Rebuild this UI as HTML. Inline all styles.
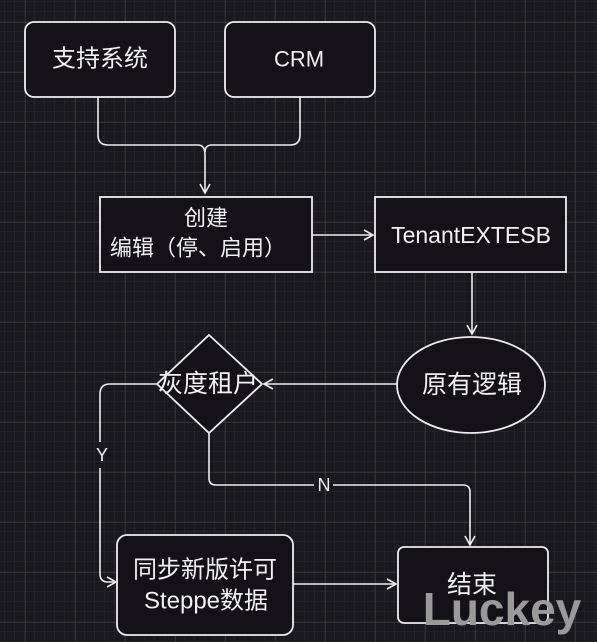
<!DOCTYPE html>
<html><head><meta charset="utf-8"><style>
html,body{margin:0;padding:0;background:#1a181f;}
svg{display:block}
text{font-family:"Liberation Sans","Noto Sans CJK SC",sans-serif;fill:#f2f2f2;}
</style></head><body>
<svg width="597" height="642" viewBox="0 0 597 642" xmlns="http://www.w3.org/2000/svg">
<defs>
<pattern id="minor" x="5" y="2" width="10" height="10" patternUnits="userSpaceOnUse">
<path d="M10 0V10M0 10H10" stroke="#2a2830" stroke-width="1" fill="none"/>
</pattern>
<pattern id="major" x="25" y="22" width="50" height="50" patternUnits="userSpaceOnUse">
<path d="M0 0V50M0 0H50" stroke="#4a473f" stroke-width="1" fill="none"/>
</pattern>
<marker id="ar" markerWidth="12" markerHeight="12" refX="10" refY="6" orient="auto" markerUnits="userSpaceOnUse">
<path d="M1 1L10 6L1 11" stroke="#eee" stroke-width="1.6" fill="none"/>
</marker>
</defs>
<rect width="597" height="642" fill="#1a181f"/>
<rect width="597" height="642" fill="url(#minor)"/>
<rect width="597" height="642" fill="url(#major)"/>
<g stroke="#eee" stroke-width="1.8" fill="#141218">
<rect x="25" y="22" width="150" height="75" rx="9"/>
<rect x="225" y="22" width="150" height="75" rx="9"/>
<rect x="100" y="197" width="212" height="75"/>
<rect x="375" y="197" width="191" height="75"/>
<ellipse cx="471" cy="385" rx="74" ry="48"/>
<path d="M209 335L262 384L209 433L157 384Z"/>
<rect x="117" y="535" width="176" height="100" rx="10"/>
<rect x="398" y="547" width="150" height="76" rx="6"/>
</g>
<g stroke="#eee" stroke-width="1.6" fill="none">
<path d="M98 97V135Q98 145 108 145H198Q205 145 205 155V193" marker-end="url(#ar)"/>
<path d="M300 97V135Q300 145 290 145H212Q205 145 205 152"/>
<path d="M312 235H373" marker-end="url(#ar)"/>
<path d="M472 272V334" marker-end="url(#ar)"/>
<path d="M397 384H264" marker-end="url(#ar)"/>
<path d="M157 384H110Q100 384 100 394V442M100 468V574Q100 582 108 582H116" marker-end="url(#ar)"/>
<path d="M209 433V478Q209 485 216 485H314M333 485H463Q470 485 470 492V545" marker-end="url(#ar)"/>
<path d="M293 584H396" marker-end="url(#ar)"/>
</g>
<g font-size="24" text-anchor="middle" dominant-baseline="central">
<text x="100" y="59">支持系统</text>
<text x="299" y="59" font-size="22">CRM</text>
<text x="206" y="218" font-size="22">创建</text>
<text x="198" y="248" font-size="22">编辑（停、启用）</text>
<text x="471" y="235" font-size="23">TenantEXTESB</text>
<text x="472" y="385" font-size="25">原有逻辑</text>
<text x="208" y="384" font-size="25">灰度租户</text>
<text x="205" y="570">同步新版许可</text>
<text x="206" y="601">Steppe数据</text>
<text x="472" y="585" font-size="25">结束</text>
<text x="102" y="455" font-size="18">Y</text>
<text x="324" y="485" font-size="18">N</text>
<text x="502" y="609" font-size="46" font-weight="bold" style="fill:#9a9a9a">Luckey</text>
</g>
</svg>
</body></html>
